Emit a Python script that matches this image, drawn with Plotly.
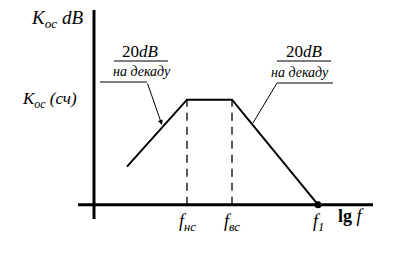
import plotly.graph_objects as go

# Data (lg f in arbitrary units, gain in dB-like units)
lg_f = [3.3, 9.3, 13.8, 22.4]
K_db = [3.8, 10.5, 10.5, 0.0]
tick_pos = [9.3, 13.8, 22.4]
tick_labels = ["<i>f</i><sub><i>нс</i></sub>", "<i>f</i><sub><i>вс</i></sub>", "<i>f</i><sub><i>1</i></sub>"]
slope_text = "20<i>dB</i>"
slope_sub = "<i>на декаду</i>"

W, H = 400, 253
X0, Y0, S = 94.0, 204.7, 10.0
def X(px): return (px - X0) / S
def Y(py): return (Y0 - py) / S

FONT = "Liberation Serif"
fig = go.Figure()

# response curve
fig.add_trace(go.Scatter(x=lg_f, y=K_db, mode="lines",
                         line=dict(color="black", width=2), hoverinfo="skip"))
# dot at f1
fig.add_trace(go.Scatter(x=[lg_f[-1]], y=[K_db[-1]], mode="markers",
                         marker=dict(color="black", size=7), hoverinfo="skip"))
# dashed verticals
for xv in lg_f[1:3]:
    fig.add_trace(go.Scatter(x=[xv, xv], y=[0, K_db[1]], mode="lines",
                             line=dict(color="black", width=1.3, dash="8px,6px"), hoverinfo="skip"))

shapes = []
# axes
shapes.append(dict(type="line", x0=X(78), x1=X(373), y0=0, y1=0, line=dict(color="black", width=3)))
shapes.append(dict(type="line", x0=0, x1=0, y0=Y(219), y1=Y(10), line=dict(color="black", width=3)))
# left slope annotation leader
shapes.append(dict(type="line", x0=X(100), x1=X(147), y0=Y(82), y1=Y(82), line=dict(color="black", width=1)))
shapes.append(dict(type="line", x0=X(114), x1=X(168), y0=Y(61), y1=Y(61), line=dict(color="black", width=1)))
# right slope annotation leader
shapes.append(dict(type="line", x0=X(253), x1=X(277), y0=Y(123), y1=Y(83), line=dict(color="black", width=1)))
shapes.append(dict(type="line", x0=X(277), x1=X(333), y0=Y(83), y1=Y(83), line=dict(color="black", width=1)))
shapes.append(dict(type="line", x0=X(277), x1=X(331), y0=Y(61), y1=Y(61), line=dict(color="black", width=1)))

ann = []
def txt(px, py, text, size, xanchor="center"):
    ann.append(dict(x=X(px), y=Y(py), text=text, showarrow=False, xanchor=xanchor, yanchor="middle",
                    font=dict(family=FONT, size=size, color="black")))

# left arrow
ann.append(dict(x=X(162), y=Y(125), ax=X(147), ay=Y(82), xref="x", yref="y", axref="x", ayref="y",
                text="", showarrow=True, arrowhead=2, arrowsize=1, arrowwidth=1, arrowcolor="black"))

txt(57, 19, "<i>K</i><sub><i>oc</i></sub> <i>dB</i>", 19)
txt(49, 100, "<i>K</i><sub><i>oc</i></sub><i> (сч)</i>", 17)
txt(140, 51, slope_text, 17)
txt(142, 71, slope_sub, 14)
txt(304, 51, slope_text, 17)
txt(300, 72, slope_sub, 14)
for p, lab in zip(tick_pos, tick_labels):
    px = X0 + p * S
    txt(px, 222, lab, 18)
txt(351, 216, "<b>lg</b> <i>f</i>", 18)

fig.update_layout(
    width=W, height=H, margin=dict(l=0, r=0, t=0, b=0),
    paper_bgcolor="white", plot_bgcolor="white", showlegend=False,
    shapes=shapes, annotations=ann,
    xaxis=dict(range=[X(0), X(W)], visible=False, fixedrange=True),
    yaxis=dict(range=[Y(H), Y(0)], visible=False, fixedrange=True),
)
fig.write_html("out.html")
